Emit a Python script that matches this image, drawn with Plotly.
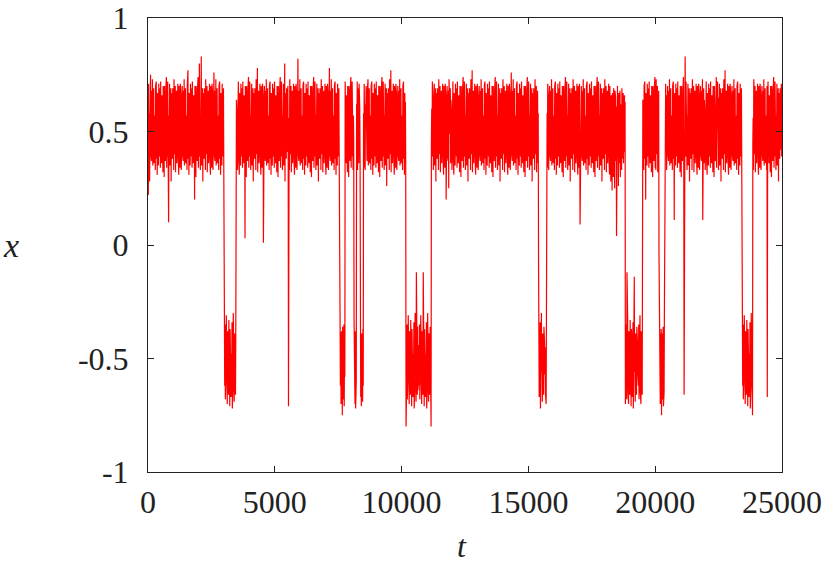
import plotly.graph_objects as go

# regime segments: start time, sign of the state, sampled |x| in hundredths
seg_start = [0, 3000, 3475, 5540, 5553, 7575, 7775, 8125, 8225, 8375, 8500,
             10175, 11175, 15400, 15725, 18825, 19500, 20150, 20375, 21140,
             21155, 23425, 23850, 24420, 24435]
t_end = 25000
seg_sign = [1, -1, 1, -1, 1, -1, 1, -1, 1, -1, 1, -1, 1, -1, 1, -1, 1, -1, 1,
            -1, 1, -1, 1, -1, 1]

seg_codes = [
    # 0 - 3000
    "66 22 71 47 58 28 62 52 75 40 55 37 68 44 73 35 60 49 69 36 "
    "64 42 57 33 70 46 72 38 59 31 67 50 63 35 71 43 56 39 69 34 "
    "72 45 61 36 66 53 58 32 70 41 63 30 70 48 54 37 68 44 74 34 "
    "60 39 72 51 65 10 57 46 71 35 62 43 69 28 67 49 59 38 69 42 "
    "56 33 73 47 64 40 70 32 61 52 68 36 58 45 71 39 63 31 70 48 "
    "58 34 71 47 66 33 62 52 70 40 55 37 68 44 73 35 60 49 69 36 "
    "64 42 57 33 70 46 77 38 59 31 67 50 63 35 71 43 56 39 69 34 "
    "72 45 61 36 66 53 58 20 70 41 63 30 70 48 54 37 68 44 74 34 "
    "60 39 80 51 65 33 57 46 83 35 62 43 69 28 67 49 59 38 69 42 "
    "56 33 73 47 64 40 70 32 61 52 68 36 58 45 71 39 63 31 70 48 "
    "58 34 71 47 66 33 62 52 76 40 55 37 68 44 73 35 60 49 69 36 "
    "64 42 57 33 70 46 72 38 59 31 67 50 63 35 71 43 56 39 69 34",
    # 3000 - 3475
    "19 44 62 35 68 49 57 31 65 41 70 38 55 46 66 33 60 52 71 37 58 "
    "40 67 48 59 34 72 42 63 30 56 45 69 39 61 50 66 36",
    # 3475 - 5540
    "10 64 42 57 33 70 46 72 38 59 31 67 50 63 35 71 43 56 39 69 34 "
    "72 45 61 36 66 53 58 03 70 41 63 30 70 48 54 37 68 44 74 34 "
    "60 39 72 51 65 33 57 46 71 35 62 43 69 28 67 49 59 38 69 42 "
    "56 33 73 47 64 40 78 32 61 52 68 36 58 45 71 39 63 31 70 48 "
    "58 34 71 47 66 01 62 52 70 40 55 37 68 44 73 35 60 49 69 36 "
    "64 42 57 33 70 46 72 38 59 31 67 50 63 35 71 43 56 39 69 34 "
    "72 45 61 36 66 53 58 32 70 41 63 30 70 48 54 37 68 44 74 34 "
    "60 39 72 51 65 33 57 46 71 35 62 43 80 28 67 49 59 38 69 42 "
    "62 41 70 44",
    # spike near 5546
    "71",
    # 5553 - 7575
    "50 56 33 73 47 64 40 70 32 61 52 68 36 58 45 71 39 63 31 70 48 "
    "58 34 71 47 66 33 62 52 82 40 55 37 68 44 73 35 60 49 69 36 "
    "64 42 57 33 70 46 72 38 59 31 67 50 63 35 71 43 56 39 69 34 "
    "72 45 61 36 66 53 58 32 70 41 63 30 70 48 54 37 68 44 74 34 "
    "60 39 72 51 65 33 57 46 71 35 62 43 69 28 67 49 59 38 69 42 "
    "56 33 73 47 64 40 70 32 61 52 68 36 58 45 71 39 63 31 70 48 "
    "58 34 71 47 66 33 62 52 78 40 55 37 68 44 73 35 60 49 69 36 "
    "64 42 57 33 70 46 72 38 59 31 67 50 63 35 71 43 56 39 69 34 "
    "66 41",
    # 7575 - 7775
    "30 62 41 70 38 66 44 75 36 64 42 68 35 71 40 58",
    # 7775 - 8125
    "72 45 61 36 66 53 58 32 70 41 63 30 70 48 54 37 68 44 74 34 "
    "60 39 72 51 65 33 57 46",
    # 8125 - 8225
    "32 66 43 70 38 72 41 60",
    # 8225 - 8375
    "62 45 72 33 58 48 69 36 71 41 60 39",
    # 8375 - 8500
    "36 67 42 71 39 65 44 69 37 62",
    # 8500 - 10175
    "58 34 71 47 66 33 62 52 70 40 55 37 68 44 73 35 60 49 69 36 "
    "64 42 57 33 70 46 72 38 59 31 67 50 63 35 71 43 56 39 69 34 "
    "72 45 61 36 66 53 58 32 70 41 63 30 70 48 54 37 68 44 74 34 "
    "60 39 72 51 65 33 57 46 71 35 62 43 69 26 67 49 59 38 69 42 "
    "56 33 73 47 64 40 77 32 61 52 68 36 58 45 71 39 63 31 70 48 "
    "58 34 71 47 66 33 62 52 70 40 55 37 68 44 73 35 60 49 69 36 "
    "64 42 57 33 70 46 72 38 59 31 67 50 63 35",
    # 10175 - 11175
    "80 44 62 35 68 49 57 31 65 41 70 38 55 46 66 33 60 52 71 37 58 "
    "40 67 48 59 34 72 42 63 30 56 45 69 12 61 50 66 36 64 43 57 "
    "44 62 35 68 49 57 31 65 41 70 38 55 46 66 12 60 52 71 37 58 "
    "40 67 48 59 34 72 42 63 30 56 45 69 39 61 50 66 36 64 43 80",
    # 11175 - 15400
    "45 60 39 72 51 65 33 57 46 71 35 62 43 69 28 67 49 59 38 69 42 "
    "56 33 73 47 64 40 70 32 61 52 68 36 58 45 71 39 63 31 70 48 "
    "58 34 71 47 66 20 62 52 70 40 55 37 68 25 73 35 60 49 69 36 "
    "64 42 57 33 70 46 72 38 59 31 67 50 63 35 71 43 56 39 69 34 "
    "72 45 61 36 66 53 58 32 70 41 63 30 70 48 54 37 68 44 74 34 "
    "60 39 72 51 65 33 57 46 71 35 62 43 69 28 67 49 59 38 69 42 "
    "56 33 73 47 64 40 77 32 61 52 68 36 58 45 71 39 63 31 70 48 "
    "58 34 71 47 66 33 62 52 70 40 55 37 68 44 73 35 60 49 69 36 "
    "64 42 57 33 70 46 72 38 59 31 67 50 63 35 71 43 56 39 69 34 "
    "72 45 61 36 66 53 58 32 70 41 63 30 70 48 54 37 68 44 74 34 "
    "60 39 72 51 65 33 57 46 71 35 62 43 69 28 67 49 59 38 69 42 "
    "56 33 73 47 64 40 70 32 61 52 68 36 58 45 71 39 63 31 70 48 "
    "58 34 71 47 66 33 62 52 76 40 55 37 68 44 73 35 60 49 69 36 "
    "64 42 57 33 70 46 72 38 59 31 67 50 63 35 71 43 56 39 69 34 "
    "72 45 61 36 66 53 58 32 70 41 63 30 70 48 54 37 68 44 74 34 "
    "60 39 72 51 65 33 57 46 71 35 62 43 69 28 67 49 59 38 69 42 "
    "56 33 73 47 64 40 70 32 61 52 68 36 58",
    # 15400 - 15725
    "06 40 67 48 59 34 72 42 63 30 56 45 69 39 61 50 66 36 64 43 57 "
    "45 66 38 70 33",
    # 15725 - 18825
    "14 58 34 71 47 66 33 62 52 70 40 55 37 68 44 73 35 60 49 69 36 "
    "64 42 57 33 70 46 72 38 59 31 67 50 63 35 71 43 56 39 69 34 "
    "72 45 61 36 66 53 58 32 70 41 63 30 70 48 54 37 68 44 74 34 "
    "60 39 72 51 65 33 57 46 71 35 62 43 69 28 67 49 59 38 69 42 "
    "56 33 73 47 64 40 70 32 61 52 68 36 58 45 71 39 63 31 70 48 "
    "58 34 71 47 09 33 62 52 70 40 55 37 68 44 73 35 60 49 69 36 "
    "64 42 57 33 70 46 72 38 59 31 67 50 63 35 71 43 56 39 69 34 "
    "72 45 61 36 66 53 58 32 70 41 63 30 70 48 54 37 68 44 74 34 "
    "60 39 72 51 65 33 57 46 71 35 62 43 69 28 67 49 59 38 69 42 "
    "56 33 73 47 64 40 70 32 61 52 68 36 58 45 71 39 63 31 70 48 "
    "52 28 66 36 62 24 67 38 58 30 69 33 63 25 68 31 65 37 61 04 "
    "55 32 70 39 64 26 67 41 60 36 68 30 62 40 65 33 69 38 57 42 "
    "67 36 64 39 66 41 63",
    # 18825 - 19500
    "70 44 62 35 68 12 57 31 65 41 70 38 55 46 66 33 60 52 71 37 "
    "40 67 48 59 34 72 42 63 14 56 45 69 39 61 50 66 36 64 43 57 "
    "44 62 35 68 49 57 31 65 41 70 38 55 46 66",
    # 19500 - 20150
    "60 64 42 57 33 70 46 72 38 59 20 67 50 63 35 71 43 56 39 69 34 "
    "72 45 61 36 66 53 58 32 70 41 63 30 70 48 54 37 68 44 74 34 "
    "56 33 73 47 64 40 70 32 61 52 68",
    # 20150 - 20375
    "04 40 66 35 70 42 64 37 75 39 68 44 62 36 71 41 65 30",
    # 20375 - 21140
    "20 58 34 71 47 66 33 62 52 70 40 55 37 68 44 73 35 60 49 69 36 "
    "64 42 57 33 70 46 72 38 59 11 67 50 63 35 71 43 56 39 69 34 "
    "72 45 61 36 66 53 58 32 70 41 63 30 70 48 54 37 68 44 74 34",
    # spike near 21150
    "66",
    # 21155 - 23425
    "62 40 83 60 39 72 51 65 33 57 46 71 35 62 43 69 28 67 49 59 38 69 42 "
    "56 33 73 47 64 40 70 32 61 52 68 36 58 45 71 39 63 31 70 48 "
    "58 34 71 47 66 33 62 52 70 40 55 37 68 44 73 11 60 49 69 36 "
    "64 42 57 33 70 46 72 38 59 31 67 50 63 35 71 43 56 39 69 34 "
    "72 45 61 36 66 53 58 32 70 41 63 30 70 48 54 37 68 44 74 34 "
    "60 39 72 51 65 33 57 46 71 35 62 43 69 28 67 49 59 38 69 42 "
    "56 33 73 47 64 40 77 32 61 52 68 36 58 45 71 39 63 31 70 48 "
    "58 34 71 47 66 33 62 52 70 40 55 37 68 44 73 35 60 49 69 36 "
    "64 42 57 33 70 46 72 38 59 31 67 50 63 35 71 43 56 39 69 34",
    # 23425 - 23850
    "20 44 62 35 68 49 57 31 65 41 70 38 55 46 66 33 60 52 71 37 58 "
    "40 67 48 59 34 72 42 63 30 56 45 69 75",
    # 23850 - 24420
    "45 56 33 73 47 64 40 70 32 61 52 68 36 58 45 71 39 63 31 70 48 "
    "58 34 71 47 66 33 62 52 70 40 55 37 68 44 73 35 60 49 69 36 "
    "64 42 57 33 70",
    # spike near 24430
    "67",
    # 24435 - 25000
    "50 72 45 61 36 66 53 58 32 70 41 63 30 70 48 54 37 68 44 74 34 "
    "60 39 72 51 65 33 57 46 71 35 62 43 69 28 67 49 59 38 69 42 "
    "58 45 71 39",
]

x_ticks = [0, 5000, 10000, 15000, 20000, 25000]
x_ticktext = ["0", "5000", "10000", "15000", "20000", "25000"]
y_ticks = [-1, -0.5, 0, 0.5, 1]
y_ticktext = ["-1", "-0.5", "0", "0.5", "1"]

t_vals, x_vals = [], []
for i, codes in enumerate(seg_codes):
    vals = [int(c) / 100 for c in codes.split()]
    a = seg_start[i]
    b = seg_start[i + 1] if i + 1 < len(seg_start) else t_end
    n = len(vals)
    for k, v in enumerate(vals):
        t_vals.append(a + (b - a) * k / n)
        x_vals.append(seg_sign[i] * v)

fig = go.Figure()
fig.add_trace(go.Scatter(x=t_vals, y=x_vals, mode="lines",
                         line=dict(color="#ff0000", width=1.2),
                         showlegend=False, hoverinfo="skip"))

font_family = "'Times New Roman', Times, 'Liberation Serif', 'DejaVu Serif', serif"
axis_style = dict(showline=True, linecolor="#222222", linewidth=1,
                  mirror="ticks", ticks="inside", ticklen=6, tickwidth=1,
                  tickcolor="#222222", showgrid=False, zeroline=False,
                  automargin=False,
                  tickfont=dict(family=font_family, size=32, color="#222222"))

fig.update_xaxes(range=[0, 25000], tickvals=x_ticks, ticktext=x_ticktext,
                 ticklabelstandoff=2, **axis_style)
fig.update_yaxes(range=[-1, 1], tickvals=y_ticks, ticktext=y_ticktext,
                 ticklabelstandoff=12, **axis_style)

fig.add_annotation(text="<i>x</i>", xref="paper", yref="paper",
                   x=-0.216, y=0.5, xanchor="center", yanchor="middle",
                   showarrow=False,
                   font=dict(family=font_family, size=34, color="#222222"))
fig.add_annotation(text="<i>t</i>", xref="paper", yref="paper",
                   x=0.495, y=-0.163, xanchor="center", yanchor="middle",
                   showarrow=False,
                   font=dict(family=font_family, size=32, color="#222222"))

fig.update_layout(
    width=831, height=566,
    margin=dict(l=148, r=49, t=18, b=94),
    plot_bgcolor="white", paper_bgcolor="white",
)

# drop the default body margin so the figure sits at the page corner
fig.write_html("out.html", config={"displayModeBar": False},
               post_script="document.body.style.margin = '0';")
